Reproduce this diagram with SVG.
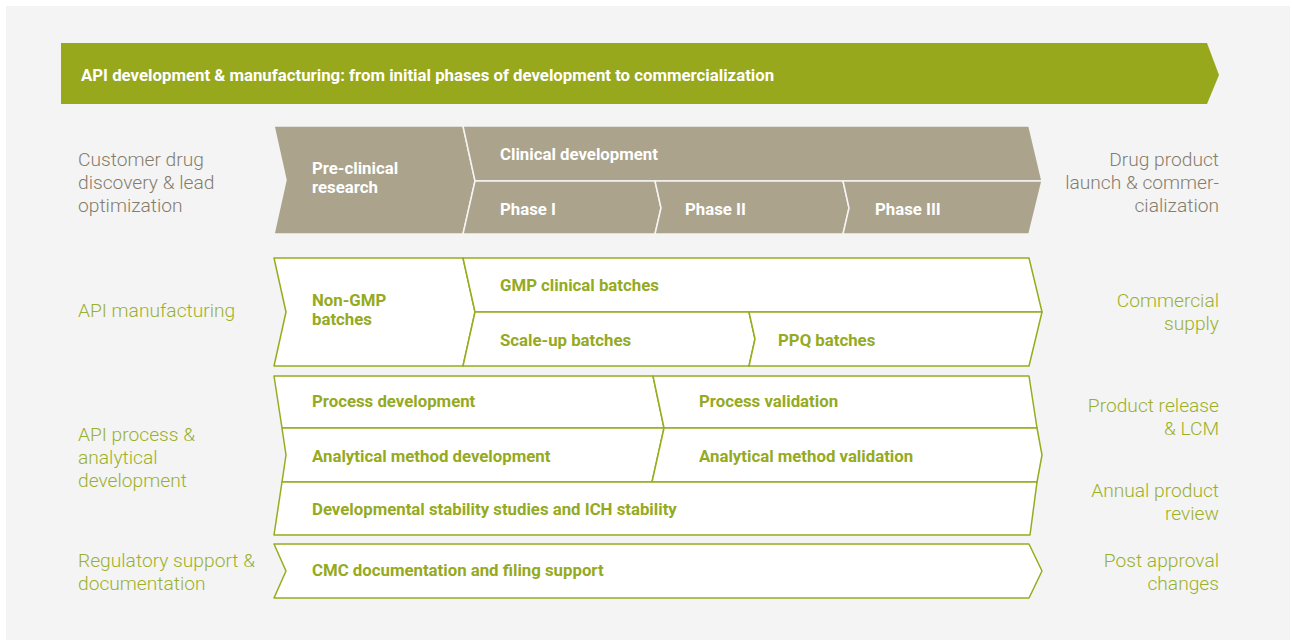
<svg xmlns="http://www.w3.org/2000/svg" width="1292" height="642" viewBox="0 0 1292 642">
<style>
.bold{font-family:Roboto,"Liberation Sans",sans-serif;font-weight:700;font-size:16.8px}
.w{fill:#ffffff}
.g{fill:#95aa1e}
.lbl{font-family:Roboto,"Liberation Sans",sans-serif;font-weight:300;font-size:19.2px}
.lg{fill:#857c6b}
.lgr{fill:#9bb02a}
.r{text-anchor:end}
.tan{fill:#aba38b;stroke:#f4f4f4;stroke-width:1.5;stroke-linejoin:round}
.box{fill:#ffffff;stroke:#95ad1c;stroke-width:1.5;stroke-linejoin:round}
</style>
<rect x="0" y="0" width="1292" height="642" fill="#ffffff"/>
<rect x="6" y="6" width="1284" height="634" fill="#f4f4f4"/>

<g id="banner">
<polygon points="61,43 1207,43 1219,75 1207,104 61,104" fill="#97a81d"/>
<text class="bold w" x="81" y="81">API development &amp; manufacturing: from initial phases of development to commercialization</text>
</g>

<g id="left-labels">
<text class="lbl lg" x="78" y="166">Customer drug</text>
<text class="lbl lg" x="78" y="189">discovery &amp; lead</text>
<text class="lbl lg" x="78" y="212">optimization</text>
<text class="lbl lgr" x="78" y="317">API manufacturing</text>
<text class="lbl lgr" x="78" y="441">API process &amp;</text>
<text class="lbl lgr" x="78" y="464">analytical</text>
<text class="lbl lgr" x="78" y="487">development</text>
<text class="lbl lgr" x="78" y="567">Regulatory support &amp;</text>
<text class="lbl lgr" x="78" y="590">documentation</text>
</g>

<g id="right-labels">
<text class="lbl lg r" x="1219" y="166">Drug product</text>
<text class="lbl lg r" x="1219" y="189">launch &amp; commer-</text>
<text class="lbl lg r" x="1219" y="212">cialization</text>
<text class="lbl lgr r" x="1219" y="307">Commercial</text>
<text class="lbl lgr r" x="1219" y="330">supply</text>
<text class="lbl lgr r" x="1219" y="412">Product release</text>
<text class="lbl lgr r" x="1219" y="435">&amp; LCM</text>
<text class="lbl lgr r" x="1219" y="497">Annual product</text>
<text class="lbl lgr r" x="1219" y="520">review</text>
<text class="lbl lgr r" x="1219" y="567">Post approval</text>
<text class="lbl lgr r" x="1219" y="590">changes</text>
</g>

<g id="preclinical">
<polygon class="tan" points="274,126 463,126 475,181 463,234 274,234 286,180"/>
<text class="bold w" x="312" y="174">Pre-clinical</text>
<text class="bold w" x="312" y="193">research</text>
</g>
<g id="clinical">
<polygon class="tan" points="463,126 1029,126 1042,181 475,181"/>
<text class="bold w" x="500" y="160">Clinical development</text>
</g>
<g id="phase1">
<polygon class="tan" points="475,181 655,181 661,208 655,234 463,234"/>
<text class="bold w" x="500" y="215">Phase I</text>
</g>
<g id="phase2">
<polygon class="tan" points="655,181 843,181 849,208 843,234 655,234 661,208"/>
<text class="bold w" x="685" y="215">Phase II</text>
</g>
<g id="phase3">
<polygon class="tan" points="843,181 1042,181 1029,234 843,234 849,208"/>
<text class="bold w" x="875" y="215">Phase III</text>
</g>

<g id="nongmp">
<polygon class="box" points="274,258 463,258 475,312 463,366 274,366 286,312"/>
<text class="bold g" x="312" y="306">Non-GMP</text>
<text class="bold g" x="312" y="325">batches</text>
</g>
<g id="gmp">
<polygon class="box" points="463,258 1029,258 1042,312 475,312"/>
<text class="bold g" x="500" y="291">GMP clinical batches</text>
</g>
<g id="scaleup">
<polygon class="box" points="475,312 749,312 755,339 749,366 463,366"/>
<text class="bold g" x="500" y="346">Scale-up batches</text>
</g>
<g id="ppq">
<polygon class="box" points="749,312 1042,312 1029,366 749,366 755,339"/>
<text class="bold g" x="778" y="346">PPQ batches</text>
</g>

<g id="procdev">
<polygon class="box" points="274,376 653,376 664,428 282,428"/>
<text class="bold g" x="312" y="407">Process development</text>
</g>
<g id="procval">
<polygon class="box" points="653,376 1029,376 1037,428 664,428"/>
<text class="bold g" x="699" y="407">Process validation</text>
</g>
<g id="amdev">
<polygon class="box" points="282,428 664,428 652,482 282,482 286,455"/>
<text class="bold g" x="312" y="462">Analytical method development</text>
</g>
<g id="amval">
<polygon class="box" points="664,428 1037,428 1042,455 1037,482 652,482"/>
<text class="bold g" x="699" y="462">Analytical method validation</text>
</g>
<g id="stability">
<polygon class="box" points="282,482 1037,482 1030,535 274,535"/>
<text class="bold g" x="312" y="515">Developmental stability studies and ICH stability</text>
</g>

<g id="cmc">
<polygon class="box" points="274,544 1029,544 1042,571 1029,598 274,598 286,571"/>
<text class="bold g" x="312" y="576">CMC documentation and filing support</text>
</g>

<g id="connectors"></g>
</svg>
